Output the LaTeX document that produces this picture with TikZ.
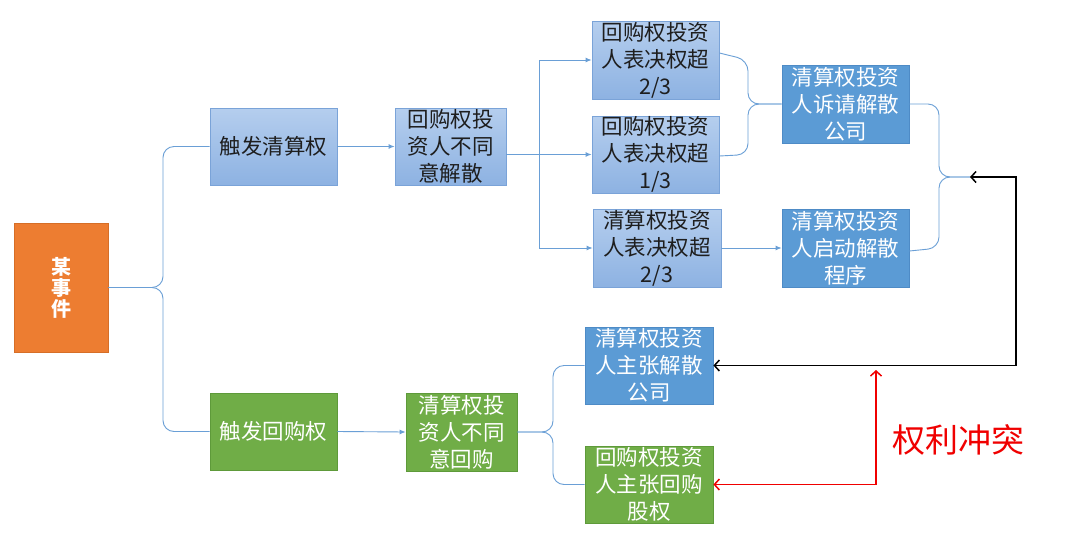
\documentclass[tikz,border=0pt]{standalone}
\usepackage{fontspec}
\setmainfont{Noto Sans CJK SC}
\usetikzlibrary{arrows.meta,calc}
\definecolor{lbt}{HTML}{B5CEEE}
\definecolor{lbb}{HTML}{8DB2E2}
\definecolor{lbd}{HTML}{7AA3D8}
\definecolor{mbf}{HTML}{5B9BD5}
\definecolor{mbd}{HTML}{4E8BC6}
\definecolor{gbf}{HTML}{70AD47}
\definecolor{gbd}{HTML}{5E9A3A}
\definecolor{obf}{HTML}{ED7D31}
\definecolor{obd}{HTML}{D66E27}
\definecolor{conc}{HTML}{6A9FD6}
\definecolor{txt}{HTML}{1E1E1E}
\definecolor{rred}{HTML}{F00000}
\begin{document}
\begin{tikzpicture}[x=1pt,y=-1pt,
  box/.style={minimum width=127pt, minimum height=77pt, inner sep=0pt, align=center, line width=0.8pt, font=\fontsize{21.5}{27}\selectfont},
  lb/.style={box, draw=lbd, top color=lbt, bottom color=lbb, text=txt},
  mb/.style={box, draw=mbd, fill=mbf, text=white},
  gb/.style={box, draw=gbd, fill=gbf, text=white},
  con/.style={draw=conc, line width=0.9pt},
  ar/.style={con, -{Latex[length=6pt,width=5pt]}},
  br/.style={con, rounded corners=11pt},
  barbtip/.tip={Straight Barb[length=5pt,width=11pt,line width=1.5pt]}]
\useasboundingbox (0,0) rectangle (1080,547);
\fill[white] (0,0) rectangle (1080,547);

% nodes
\node[box, draw=obd, fill=obf, text=white, minimum width=94pt, minimum height=129pt,
      font=\fontsize{20}{21}\selectfont\bfseries] (ev) at (61,287.5) {某\\事\\件};
\node[lb] (t1) at (273.5,146.5) {触发清算权};
\node[gb] (t2) at (273.5,431.5) {触发回购权};
\node[lb, minimum width=111pt] (n1) at (450.5,146.5) {回购权投\\资人不同\\意解散};
\node[lb, minimum height=78pt] (v1) at (655.5,60) {回购权投资\\人表决权超\\2/3};
\node[lb] (v2) at (655.5,154.5) {回购权投资\\人表决权超\\1/3};
\node[lb, minimum width=128pt, minimum height=78pt] (v3) at (657,248) {清算权投资\\人表决权超\\2/3};
\node[mb, minimum height=78pt] (r1) at (845.5,104) {清算权投资\\人诉请解散\\公司};
\node[mb, minimum height=78pt] (r2) at (845.5,248) {清算权投资\\人启动解散\\程序};
\node[gb, minimum width=111pt, minimum height=78pt] (n2) at (461.5,432) {清算权投\\资人不同\\意回购};
\node[mb, minimum width=128pt] (d1) at (649,365.5) {清算权投资\\人主张解散\\公司};
\node[gb, minimum width=128pt] (d2) at (649,484.5) {回购权投资\\人主张回购\\股权};
\node[text=rred, font=\fontsize{33}{33}\selectfont, inner sep=0pt] (conf) at (958,440) {权利冲突};

% helper coordinates
\coordinate (b1) at (163,0);
\coordinate (sp) at (539,0);
\coordinate (b2) at (748,0);
\coordinate (b3) at (939,0);
\coordinate (b4) at (553,0);
\coordinate (bp) at (970,177);
\coordinate (cr) at (1016,177);
\coordinate (rt) at (876,370);

% braces / connectors
\draw[br] (ev.east) -- (b1 |- ev.east) -- (b1 |- t1.west) -- (t1.west);
\draw[br] (ev.east) -- (b1 |- ev.east) -- (b1 |- t2.west) -- (t2.west);
\draw[ar] (t1.east) -- (n1.west);
\draw[ar] (t2.east) -- (n2.west);

\draw[ar] (n1.east |- v2.west) -- (v2.west);
\draw[ar] (sp |- v2.west) |- (v1.west);
\draw[ar] (sp |- v2.west) |- (v3.west);

\draw[br] ($(v1.east)+(0,-7)$) -- (b2 |- v1.east) -- (b2 |- r1.west) -- (r1.west);
\draw[br] ($(v2.east)+(0,1.5)$) -- (b2 |- v2.east) -- (b2 |- r1.west) -- (r1.west);
\draw[ar] (v3.east) -- (r2.west);

\draw[br] (r1.east) -- (b3 |- r1.east) -- (b3 |- bp) -- (bp);
\draw[br] ($(r2.east)+(0,3)$) -- (b3 |- r2.east) -- (b3 |- bp) -- (bp);

\draw[br] (n2.east) -- (b4 |- n2.east) -- (b4 |- d1.west) -- (d1.west);
\draw[br] (n2.east) -- (b4 |- n2.east) -- (b4 |- d2.west) -- (d2.west);

% black and red arrows
\draw[black, line width=1.8pt, {barbtip}-{barbtip}] (bp) -- (cr) |- (d1.east);
\draw[rred, line width=1.5pt, {barbtip}-{barbtip}] (d2.east) -| (rt);
\end{tikzpicture}
\end{document}
